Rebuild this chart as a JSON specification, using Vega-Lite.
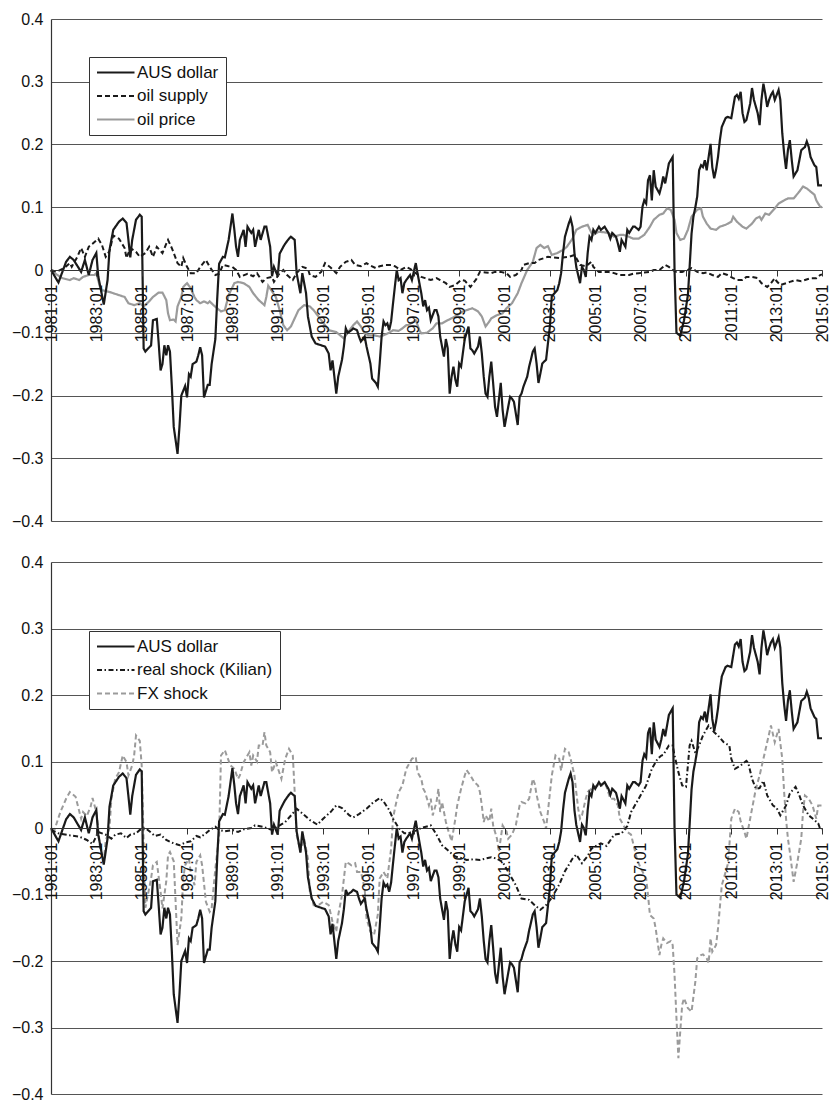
{
"$schema": "https://vega.github.io/schema/vega-lite/v6.json",
"background": "white",
"padding": {"left": 11, "top": 11, "right": 0, "bottom": 0},
"config": {"view": {"stroke": null}, "font": "Liberation Sans", "legend": {"title": null, "orient": "none", "strokeColor": "#333", "fillColor": "white", "padding": 7, "symbolType": "M-1,0H4", "symbolSize": 225, "symbolStrokeWidth": 2, "labelFontSize": 17, "labelColor": "#111", "labelOffset": 24, "rowPadding": 5.5, "labelLimit": 300}},
"spacing": 25,
"datasets": {
"aus": [
{"date":"1981-01","series":"AUS dollar","value":0},{"date":"1981-05","series":"AUS dollar","value":-0.02},{"date":"1981-09","series":"AUS dollar","value":0.013},{"date":"1981-11","series":"AUS dollar","value":0.021},{"date":"1982-01","series":"AUS dollar","value":0.016},{"date":"1982-05","series":"AUS dollar","value":-0.003},{"date":"1982-07","series":"AUS dollar","value":0.016},{"date":"1982-09","series":"AUS dollar","value":-0.008},{"date":"1982-11","series":"AUS dollar","value":0.016},{"date":"1983-01","series":"AUS dollar","value":0.027},{"date":"1983-02","series":"AUS dollar","value":-0.01},{"date":"1983-05","series":"AUS dollar","value":-0.055},{"date":"1983-07","series":"AUS dollar","value":-0.016},{"date":"1983-08","series":"AUS dollar","value":0.032},{"date":"1983-10","series":"AUS dollar","value":0.064},{"date":"1984-01","series":"AUS dollar","value":0.077},{"date":"1984-03","series":"AUS dollar","value":0.082},{"date":"1984-05","series":"AUS dollar","value":0.075},{"date":"1984-06","series":"AUS dollar","value":0.048},{"date":"1984-07","series":"AUS dollar","value":0.02},{"date":"1984-08","series":"AUS dollar","value":0.048},{"date":"1984-10","series":"AUS dollar","value":0.08},{"date":"1984-12","series":"AUS dollar","value":0.088},{"date":"1985-01","series":"AUS dollar","value":0.085},{"date":"1985-02","series":"AUS dollar","value":-0.125},{"date":"1985-03","series":"AUS dollar","value":-0.13},{"date":"1985-06","series":"AUS dollar","value":-0.12},{"date":"1985-07","series":"AUS dollar","value":-0.08},{"date":"1985-09","series":"AUS dollar","value":-0.078},{"date":"1985-10","series":"AUS dollar","value":-0.116},{"date":"1985-11","series":"AUS dollar","value":-0.16},{"date":"1985-12","series":"AUS dollar","value":-0.15},{"date":"1986-01","series":"AUS dollar","value":-0.12},{"date":"1986-02","series":"AUS dollar","value":-0.136},{"date":"1986-03","series":"AUS dollar","value":-0.12},{"date":"1986-04","series":"AUS dollar","value":-0.13},{"date":"1986-05","series":"AUS dollar","value":-0.185},{"date":"1986-06","series":"AUS dollar","value":-0.25},{"date":"1986-08","series":"AUS dollar","value":-0.293},{"date":"1986-09","series":"AUS dollar","value":-0.25},{"date":"1986-10","series":"AUS dollar","value":-0.2},{"date":"1986-12","series":"AUS dollar","value":-0.185},{"date":"1987-01","series":"AUS dollar","value":-0.203},{"date":"1987-02","series":"AUS dollar","value":-0.166},{"date":"1987-03","series":"AUS dollar","value":-0.17},{"date":"1987-04","series":"AUS dollar","value":-0.15},{"date":"1987-06","series":"AUS dollar","value":-0.146},{"date":"1987-07","series":"AUS dollar","value":-0.136},{"date":"1987-08","series":"AUS dollar","value":-0.123},{"date":"1987-09","series":"AUS dollar","value":-0.136},{"date":"1987-10","series":"AUS dollar","value":-0.203},{"date":"1987-12","series":"AUS dollar","value":-0.183},{"date":"1988-01","series":"AUS dollar","value":-0.183},{"date":"1988-02","series":"AUS dollar","value":-0.15},{"date":"1988-04","series":"AUS dollar","value":-0.11},{"date":"1988-05","series":"AUS dollar","value":-0.046},{"date":"1988-06","series":"AUS dollar","value":0.01},{"date":"1988-08","series":"AUS dollar","value":0.021},{"date":"1988-09","series":"AUS dollar","value":0.02},{"date":"1988-11","series":"AUS dollar","value":0.048},{"date":"1989-01","series":"AUS dollar","value":0.09},{"date":"1989-02","series":"AUS dollar","value":0.064},{"date":"1989-03","series":"AUS dollar","value":0.037},{"date":"1989-04","series":"AUS dollar","value":0.021},{"date":"1989-05","series":"AUS dollar","value":0.048},{"date":"1989-07","series":"AUS dollar","value":0.064},{"date":"1989-08","series":"AUS dollar","value":0.037},{"date":"1989-09","series":"AUS dollar","value":0.069},{"date":"1989-11","series":"AUS dollar","value":0.059},{"date":"1989-12","series":"AUS dollar","value":0.064},{"date":"1990-01","series":"AUS dollar","value":0.037},{"date":"1990-03","series":"AUS dollar","value":0.064},{"date":"1990-04","series":"AUS dollar","value":0.048},{"date":"1990-06","series":"AUS dollar","value":0.069},{"date":"1990-07","series":"AUS dollar","value":0.069},{"date":"1990-09","series":"AUS dollar","value":0.037},{"date":"1990-10","series":"AUS dollar","value":-0.01},{"date":"1990-11","series":"AUS dollar","value":0.005},{"date":"1991-01","series":"AUS dollar","value":-0.01},{"date":"1991-02","series":"AUS dollar","value":0.026},{"date":"1991-04","series":"AUS dollar","value":0.037},{"date":"1991-05","series":"AUS dollar","value":0.042},{"date":"1991-07","series":"AUS dollar","value":0.05},{"date":"1991-08","series":"AUS dollar","value":0.053},{"date":"1991-10","series":"AUS dollar","value":0.048},{"date":"1991-11","series":"AUS dollar","value":-0.005},{"date":"1992-01","series":"AUS dollar","value":-0.037},{"date":"1992-02","series":"AUS dollar","value":-0.005},{"date":"1992-04","series":"AUS dollar","value":-0.037},{"date":"1992-05","series":"AUS dollar","value":-0.074},{"date":"1992-07","series":"AUS dollar","value":-0.106},{"date":"1992-09","series":"AUS dollar","value":-0.117},{"date":"1992-12","series":"AUS dollar","value":-0.12},{"date":"1993-02","series":"AUS dollar","value":-0.122},{"date":"1993-04","series":"AUS dollar","value":-0.133},{"date":"1993-05","series":"AUS dollar","value":-0.16},{"date":"1993-06","series":"AUS dollar","value":-0.144},{"date":"1993-07","series":"AUS dollar","value":-0.17},{"date":"1993-08","series":"AUS dollar","value":-0.197},{"date":"1993-09","series":"AUS dollar","value":-0.17},{"date":"1993-11","series":"AUS dollar","value":-0.143},{"date":"1993-12","series":"AUS dollar","value":-0.122},{"date":"1994-01","series":"AUS dollar","value":-0.093},{"date":"1994-02","series":"AUS dollar","value":-0.1},{"date":"1994-04","series":"AUS dollar","value":-0.096},{"date":"1994-05","series":"AUS dollar","value":-0.093},{"date":"1994-07","series":"AUS dollar","value":-0.096},{"date":"1994-08","series":"AUS dollar","value":-0.106},{"date":"1994-09","series":"AUS dollar","value":-0.114},{"date":"1994-11","series":"AUS dollar","value":-0.106},{"date":"1994-12","series":"AUS dollar","value":-0.122},{"date":"1995-02","series":"AUS dollar","value":-0.149},{"date":"1995-03","series":"AUS dollar","value":-0.173},{"date":"1995-05","series":"AUS dollar","value":-0.18},{"date":"1995-06","series":"AUS dollar","value":-0.186},{"date":"1995-07","series":"AUS dollar","value":-0.149},{"date":"1995-08","series":"AUS dollar","value":-0.106},{"date":"1995-09","series":"AUS dollar","value":-0.082},{"date":"1995-10","series":"AUS dollar","value":-0.088},{"date":"1995-11","series":"AUS dollar","value":-0.085},{"date":"1995-12","series":"AUS dollar","value":-0.096},{"date":"1996-01","series":"AUS dollar","value":-0.082},{"date":"1996-02","series":"AUS dollar","value":-0.053},{"date":"1996-03","series":"AUS dollar","value":-0.027},{"date":"1996-04","series":"AUS dollar","value":0.0},{"date":"1996-05","series":"AUS dollar","value":-0.016},{"date":"1996-06","series":"AUS dollar","value":-0.013},{"date":"1996-07","series":"AUS dollar","value":-0.037},{"date":"1996-08","series":"AUS dollar","value":-0.021},{"date":"1996-09","series":"AUS dollar","value":-0.016},{"date":"1996-11","series":"AUS dollar","value":-0.008},{"date":"1996-12","series":"AUS dollar","value":-0.016},{"date":"1997-02","series":"AUS dollar","value":0.011},{"date":"1997-03","series":"AUS dollar","value":-0.005},{"date":"1997-05","series":"AUS dollar","value":-0.037},{"date":"1997-06","series":"AUS dollar","value":-0.058},{"date":"1997-07","series":"AUS dollar","value":-0.048},{"date":"1997-08","series":"AUS dollar","value":-0.064},{"date":"1997-09","series":"AUS dollar","value":-0.06},{"date":"1997-10","series":"AUS dollar","value":-0.08},{"date":"1997-12","series":"AUS dollar","value":-0.064},{"date":"1998-01","series":"AUS dollar","value":-0.064},{"date":"1998-02","series":"AUS dollar","value":-0.074},{"date":"1998-03","series":"AUS dollar","value":-0.106},{"date":"1998-05","series":"AUS dollar","value":-0.138},{"date":"1998-06","series":"AUS dollar","value":-0.11},{"date":"1998-07","series":"AUS dollar","value":-0.125},{"date":"1998-08","series":"AUS dollar","value":-0.197},{"date":"1998-09","series":"AUS dollar","value":-0.17},{"date":"1998-10","series":"AUS dollar","value":-0.154},{"date":"1998-11","series":"AUS dollar","value":-0.175},{"date":"1998-12","series":"AUS dollar","value":-0.186},{"date":"1999-01","series":"AUS dollar","value":-0.149},{"date":"1999-02","series":"AUS dollar","value":-0.154},{"date":"1999-03","series":"AUS dollar","value":-0.133},{"date":"1999-04","series":"AUS dollar","value":-0.11},{"date":"1999-06","series":"AUS dollar","value":-0.09},{"date":"1999-07","series":"AUS dollar","value":-0.125},{"date":"1999-08","series":"AUS dollar","value":-0.128},{"date":"1999-09","series":"AUS dollar","value":-0.133},{"date":"1999-11","series":"AUS dollar","value":-0.122},{"date":"1999-12","series":"AUS dollar","value":-0.106},{"date":"2000-01","series":"AUS dollar","value":-0.133},{"date":"2000-02","series":"AUS dollar","value":-0.17},{"date":"2000-03","series":"AUS dollar","value":-0.197},{"date":"2000-04","series":"AUS dollar","value":-0.202},{"date":"2000-05","series":"AUS dollar","value":-0.17},{"date":"2000-06","series":"AUS dollar","value":-0.146},{"date":"2000-07","series":"AUS dollar","value":-0.18},{"date":"2000-08","series":"AUS dollar","value":-0.218},{"date":"2000-09","series":"AUS dollar","value":-0.234},{"date":"2000-10","series":"AUS dollar","value":-0.207},{"date":"2000-11","series":"AUS dollar","value":-0.18},{"date":"2000-12","series":"AUS dollar","value":-0.223},{"date":"2001-01","series":"AUS dollar","value":-0.25},{"date":"2001-03","series":"AUS dollar","value":-0.218},{"date":"2001-04","series":"AUS dollar","value":-0.202},{"date":"2001-05","series":"AUS dollar","value":-0.205},{"date":"2001-06","series":"AUS dollar","value":-0.21},{"date":"2001-08","series":"AUS dollar","value":-0.247},{"date":"2001-09","series":"AUS dollar","value":-0.202},{"date":"2001-10","series":"AUS dollar","value":-0.197},{"date":"2001-11","series":"AUS dollar","value":-0.186},{"date":"2001-12","series":"AUS dollar","value":-0.178},{"date":"2002-01","series":"AUS dollar","value":-0.17},{"date":"2002-02","series":"AUS dollar","value":-0.154},{"date":"2002-03","series":"AUS dollar","value":-0.143},{"date":"2002-04","series":"AUS dollar","value":-0.13},{"date":"2002-05","series":"AUS dollar","value":-0.125},{"date":"2002-06","series":"AUS dollar","value":-0.149},{"date":"2002-07","series":"AUS dollar","value":-0.18},{"date":"2002-08","series":"AUS dollar","value":-0.165},{"date":"2002-09","series":"AUS dollar","value":-0.149},{"date":"2002-11","series":"AUS dollar","value":-0.143},{"date":"2003-01","series":"AUS dollar","value":-0.09},{"date":"2003-02","series":"AUS dollar","value":-0.042},{"date":"2003-05","series":"AUS dollar","value":-0.032},{"date":"2003-06","series":"AUS dollar","value":-0.021},{"date":"2003-07","series":"AUS dollar","value":-0.005},{"date":"2003-08","series":"AUS dollar","value":0.027},{"date":"2003-09","series":"AUS dollar","value":0.053},{"date":"2003-11","series":"AUS dollar","value":0.074},{"date":"2003-12","series":"AUS dollar","value":0.082},{"date":"2004-01","series":"AUS dollar","value":0.069},{"date":"2004-02","series":"AUS dollar","value":0.027},{"date":"2004-03","series":"AUS dollar","value":0.005},{"date":"2004-05","series":"AUS dollar","value":-0.021},{"date":"2004-06","series":"AUS dollar","value":0.005},{"date":"2004-07","series":"AUS dollar","value":0.0},{"date":"2004-08","series":"AUS dollar","value":-0.011},{"date":"2004-09","series":"AUS dollar","value":0.027},{"date":"2004-10","series":"AUS dollar","value":0.053},{"date":"2004-11","series":"AUS dollar","value":0.048},{"date":"2004-12","series":"AUS dollar","value":0.064},{"date":"2005-01","series":"AUS dollar","value":0.059},{"date":"2005-03","series":"AUS dollar","value":0.069},{"date":"2005-04","series":"AUS dollar","value":0.064},{"date":"2005-06","series":"AUS dollar","value":0.069},{"date":"2005-07","series":"AUS dollar","value":0.064},{"date":"2005-08","series":"AUS dollar","value":0.059},{"date":"2005-09","series":"AUS dollar","value":0.05},{"date":"2005-10","series":"AUS dollar","value":0.059},{"date":"2005-12","series":"AUS dollar","value":0.053},{"date":"2006-01","series":"AUS dollar","value":0.042},{"date":"2006-02","series":"AUS dollar","value":0.029},{"date":"2006-03","series":"AUS dollar","value":0.048},{"date":"2006-05","series":"AUS dollar","value":0.037},{"date":"2006-06","series":"AUS dollar","value":0.064},{"date":"2006-07","series":"AUS dollar","value":0.059},{"date":"2006-09","series":"AUS dollar","value":0.069},{"date":"2006-10","series":"AUS dollar","value":0.069},{"date":"2006-12","series":"AUS dollar","value":0.064},{"date":"2007-01","series":"AUS dollar","value":0.069},{"date":"2007-02","series":"AUS dollar","value":0.101},{"date":"2007-03","series":"AUS dollar","value":0.111},{"date":"2007-04","series":"AUS dollar","value":0.106},{"date":"2007-05","series":"AUS dollar","value":0.143},{"date":"2007-06","series":"AUS dollar","value":0.151},{"date":"2007-07","series":"AUS dollar","value":0.111},{"date":"2007-08","series":"AUS dollar","value":0.159},{"date":"2007-09","series":"AUS dollar","value":0.133},{"date":"2007-11","series":"AUS dollar","value":0.122},{"date":"2007-12","series":"AUS dollar","value":0.133},{"date":"2008-01","series":"AUS dollar","value":0.149},{"date":"2008-02","series":"AUS dollar","value":0.138},{"date":"2008-04","series":"AUS dollar","value":0.17},{"date":"2008-05","series":"AUS dollar","value":0.175},{"date":"2008-06","series":"AUS dollar","value":0.18},{"date":"2008-07","series":"AUS dollar","value":0.0},{"date":"2008-08","series":"AUS dollar","value":-0.1},{"date":"2008-10","series":"AUS dollar","value":-0.105},{"date":"2008-12","series":"AUS dollar","value":-0.08},{"date":"2009-02","series":"AUS dollar","value":-0.04},{"date":"2009-03","series":"AUS dollar","value":0.005},{"date":"2009-04","series":"AUS dollar","value":0.058},{"date":"2009-05","series":"AUS dollar","value":0.085},{"date":"2009-06","series":"AUS dollar","value":0.1},{"date":"2009-07","series":"AUS dollar","value":0.117},{"date":"2009-08","series":"AUS dollar","value":0.159},{"date":"2009-09","series":"AUS dollar","value":0.167},{"date":"2009-10","series":"AUS dollar","value":0.164},{"date":"2009-11","series":"AUS dollar","value":0.175},{"date":"2009-12","series":"AUS dollar","value":0.159},{"date":"2010-01","series":"AUS dollar","value":0.18},{"date":"2010-02","series":"AUS dollar","value":0.201},{"date":"2010-03","series":"AUS dollar","value":0.164},{"date":"2010-04","series":"AUS dollar","value":0.146},{"date":"2010-05","series":"AUS dollar","value":0.16},{"date":"2010-06","series":"AUS dollar","value":0.18},{"date":"2010-07","series":"AUS dollar","value":0.207},{"date":"2010-08","series":"AUS dollar","value":0.228},{"date":"2010-10","series":"AUS dollar","value":0.242},{"date":"2010-11","series":"AUS dollar","value":0.244},{"date":"2011-01","series":"AUS dollar","value":0.242},{"date":"2011-02","series":"AUS dollar","value":0.26},{"date":"2011-03","series":"AUS dollar","value":0.276},{"date":"2011-04","series":"AUS dollar","value":0.279},{"date":"2011-05","series":"AUS dollar","value":0.273},{"date":"2011-06","series":"AUS dollar","value":0.284},{"date":"2011-07","series":"AUS dollar","value":0.25},{"date":"2011-08","series":"AUS dollar","value":0.236},{"date":"2011-09","series":"AUS dollar","value":0.239},{"date":"2011-11","series":"AUS dollar","value":0.265},{"date":"2011-12","series":"AUS dollar","value":0.29},{"date":"2012-01","series":"AUS dollar","value":0.271},{"date":"2012-03","series":"AUS dollar","value":0.25},{"date":"2012-04","series":"AUS dollar","value":0.231},{"date":"2012-05","series":"AUS dollar","value":0.271},{"date":"2012-06","series":"AUS dollar","value":0.297},{"date":"2012-07","series":"AUS dollar","value":0.281},{"date":"2012-08","series":"AUS dollar","value":0.26},{"date":"2012-09","series":"AUS dollar","value":0.271},{"date":"2012-10","series":"AUS dollar","value":0.279},{"date":"2012-11","series":"AUS dollar","value":0.284},{"date":"2012-12","series":"AUS dollar","value":0.271},{"date":"2013-02","series":"AUS dollar","value":0.287},{"date":"2013-03","series":"AUS dollar","value":0.271},{"date":"2013-04","series":"AUS dollar","value":0.218},{"date":"2013-05","series":"AUS dollar","value":0.186},{"date":"2013-06","series":"AUS dollar","value":0.161},{"date":"2013-07","series":"AUS dollar","value":0.191},{"date":"2013-08","series":"AUS dollar","value":0.207},{"date":"2013-09","series":"AUS dollar","value":0.175},{"date":"2013-10","series":"AUS dollar","value":0.149},{"date":"2013-12","series":"AUS dollar","value":0.159},{"date":"2014-01","series":"AUS dollar","value":0.175},{"date":"2014-02","series":"AUS dollar","value":0.191},{"date":"2014-04","series":"AUS dollar","value":0.196},{"date":"2014-05","series":"AUS dollar","value":0.205},{"date":"2014-06","series":"AUS dollar","value":0.196},{"date":"2014-07","series":"AUS dollar","value":0.18},{"date":"2014-09","series":"AUS dollar","value":0.167},{"date":"2014-10","series":"AUS dollar","value":0.164},{"date":"2014-11","series":"AUS dollar","value":0.135},{"date":"2014-12","series":"AUS dollar","value":0.135},{"date":"2015-01","series":"AUS dollar","value":0.135}
],
"supply": [
{"date":"1981-01","series":"oil supply","value":0},{"date":"1981-04","series":"oil supply","value":-0.003},{"date":"1981-08","series":"oil supply","value":0.003},{"date":"1981-11","series":"oil supply","value":0.011},{"date":"1981-12","series":"oil supply","value":0.005},{"date":"1982-03","series":"oil supply","value":0.021},{"date":"1982-05","series":"oil supply","value":0.035},{"date":"1982-07","series":"oil supply","value":0.021},{"date":"1982-09","series":"oil supply","value":0.037},{"date":"1982-11","series":"oil supply","value":0.042},{"date":"1983-02","series":"oil supply","value":0.05},{"date":"1983-04","series":"oil supply","value":0.04},{"date":"1983-06","series":"oil supply","value":0.021},{"date":"1983-08","series":"oil supply","value":0.03},{"date":"1983-10","series":"oil supply","value":0.055},{"date":"1984-01","series":"oil supply","value":0.05},{"date":"1984-04","series":"oil supply","value":0.035},{"date":"1984-05","series":"oil supply","value":0.019},{"date":"1984-07","series":"oil supply","value":0.035},{"date":"1984-10","series":"oil supply","value":0.029},{"date":"1984-12","series":"oil supply","value":0.021},{"date":"1985-03","series":"oil supply","value":0.027},{"date":"1985-05","series":"oil supply","value":0.037},{"date":"1985-07","series":"oil supply","value":0.021},{"date":"1985-09","series":"oil supply","value":0.037},{"date":"1985-12","series":"oil supply","value":0.027},{"date":"1986-02","series":"oil supply","value":0.042},{"date":"1986-03","series":"oil supply","value":0.048},{"date":"1986-05","series":"oil supply","value":0.035},{"date":"1986-08","series":"oil supply","value":0.011},{"date":"1986-10","series":"oil supply","value":0.005},{"date":"1986-11","series":"oil supply","value":0.019},{"date":"1987-01","series":"oil supply","value":0.005},{"date":"1987-03","series":"oil supply","value":-0.005},{"date":"1987-06","series":"oil supply","value":-0.005},{"date":"1987-08","series":"oil supply","value":0.005},{"date":"1987-11","series":"oil supply","value":0.016},{"date":"1988-01","series":"oil supply","value":0.005},{"date":"1988-04","series":"oil supply","value":-0.008},{"date":"1988-06","series":"oil supply","value":-0.006},{"date":"1988-08","series":"oil supply","value":0.008},{"date":"1988-11","series":"oil supply","value":0.006},{"date":"1989-01","series":"oil supply","value":0.005},{"date":"1989-03","series":"oil supply","value":0.0},{"date":"1989-05","series":"oil supply","value":-0.011},{"date":"1989-09","series":"oil supply","value":-0.006},{"date":"1989-12","series":"oil supply","value":-0.01},{"date":"1990-02","series":"oil supply","value":-0.005},{"date":"1990-05","series":"oil supply","value":-0.019},{"date":"1990-07","series":"oil supply","value":-0.013},{"date":"1990-10","series":"oil supply","value":-0.011},{"date":"1990-11","series":"oil supply","value":-0.019},{"date":"1991-02","series":"oil supply","value":-0.005},{"date":"1991-04","series":"oil supply","value":0.0},{"date":"1991-06","series":"oil supply","value":-0.008},{"date":"1991-09","series":"oil supply","value":-0.016},{"date":"1991-11","series":"oil supply","value":-0.005},{"date":"1992-02","series":"oil supply","value":0.005},{"date":"1992-05","series":"oil supply","value":0.002},{"date":"1992-06","series":"oil supply","value":-0.008},{"date":"1992-09","series":"oil supply","value":-0.011},{"date":"1992-12","series":"oil supply","value":-0.003},{"date":"1993-02","series":"oil supply","value":0.011},{"date":"1993-05","series":"oil supply","value":0.004},{"date":"1993-08","series":"oil supply","value":-0.005},{"date":"1993-10","series":"oil supply","value":0.005},{"date":"1994-01","series":"oil supply","value":0.013},{"date":"1994-04","series":"oil supply","value":0.016},{"date":"1994-06","series":"oil supply","value":0.008},{"date":"1994-09","series":"oil supply","value":0.006},{"date":"1994-12","series":"oil supply","value":0.011},{"date":"1995-02","series":"oil supply","value":0.007},{"date":"1995-05","series":"oil supply","value":0.003},{"date":"1995-07","series":"oil supply","value":0.006},{"date":"1995-10","series":"oil supply","value":0.008},{"date":"1996-01","series":"oil supply","value":0.008},{"date":"1996-03","series":"oil supply","value":0.006},{"date":"1996-06","series":"oil supply","value":0.0},{"date":"1996-09","series":"oil supply","value":0.005},{"date":"1996-11","series":"oil supply","value":0.002},{"date":"1997-02","series":"oil supply","value":-0.005},{"date":"1997-05","series":"oil supply","value":-0.011},{"date":"1997-07","series":"oil supply","value":-0.013},{"date":"1997-10","series":"oil supply","value":-0.016},{"date":"1998-01","series":"oil supply","value":-0.013},{"date":"1998-03","series":"oil supply","value":-0.016},{"date":"1998-06","series":"oil supply","value":-0.021},{"date":"1998-08","series":"oil supply","value":-0.027},{"date":"1998-11","series":"oil supply","value":-0.024},{"date":"1999-02","series":"oil supply","value":-0.016},{"date":"1999-04","series":"oil supply","value":-0.017},{"date":"1999-07","series":"oil supply","value":-0.027},{"date":"1999-10","series":"oil supply","value":-0.015},{"date":"1999-12","series":"oil supply","value":-0.003},{"date":"2000-03","series":"oil supply","value":-0.004},{"date":"2000-06","series":"oil supply","value":-0.005},{"date":"2000-08","series":"oil supply","value":-0.003},{"date":"2000-11","series":"oil supply","value":-0.003},{"date":"2001-02","series":"oil supply","value":-0.005},{"date":"2001-04","series":"oil supply","value":-0.011},{"date":"2001-07","series":"oil supply","value":-0.008},{"date":"2001-10","series":"oil supply","value":0.0},{"date":"2001-11","series":"oil supply","value":0.008},{"date":"2002-02","series":"oil supply","value":0.011},{"date":"2002-05","series":"oil supply","value":0.011},{"date":"2002-07","series":"oil supply","value":0.016},{"date":"2002-10","series":"oil supply","value":0.019},{"date":"2002-12","series":"oil supply","value":0.021},{"date":"2003-03","series":"oil supply","value":0.02},{"date":"2003-06","series":"oil supply","value":0.019},{"date":"2003-08","series":"oil supply","value":0.02},{"date":"2003-11","series":"oil supply","value":0.021},{"date":"2004-02","series":"oil supply","value":0.024},{"date":"2004-03","series":"oil supply","value":0.019},{"date":"2004-05","series":"oil supply","value":0.008},{"date":"2004-08","series":"oil supply","value":0.006},{"date":"2004-11","series":"oil supply","value":0.013},{"date":"2004-12","series":"oil supply","value":0.005},{"date":"2005-03","series":"oil supply","value":-0.003},{"date":"2005-06","series":"oil supply","value":-0.003},{"date":"2005-08","series":"oil supply","value":-0.003},{"date":"2005-11","series":"oil supply","value":-0.005},{"date":"2006-02","series":"oil supply","value":-0.008},{"date":"2006-04","series":"oil supply","value":-0.008},{"date":"2006-07","series":"oil supply","value":-0.008},{"date":"2006-09","series":"oil supply","value":-0.006},{"date":"2006-12","series":"oil supply","value":-0.005},{"date":"2007-03","series":"oil supply","value":-0.004},{"date":"2007-06","series":"oil supply","value":-0.003},{"date":"2007-08","series":"oil supply","value":0.0},{"date":"2007-11","series":"oil supply","value":0.0},{"date":"2008-01","series":"oil supply","value":0.005},{"date":"2008-02","series":"oil supply","value":0.008},{"date":"2008-04","series":"oil supply","value":0.005},{"date":"2008-06","series":"oil supply","value":0.0},{"date":"2008-08","series":"oil supply","value":-0.003},{"date":"2008-11","series":"oil supply","value":-0.003},{"date":"2009-02","series":"oil supply","value":0.0},{"date":"2009-04","series":"oil supply","value":0.003},{"date":"2009-07","series":"oil supply","value":-0.003},{"date":"2009-10","series":"oil supply","value":-0.005},{"date":"2009-12","series":"oil supply","value":-0.004},{"date":"2010-03","series":"oil supply","value":-0.008},{"date":"2010-06","series":"oil supply","value":-0.011},{"date":"2010-08","series":"oil supply","value":-0.005},{"date":"2010-11","series":"oil supply","value":-0.008},{"date":"2011-02","series":"oil supply","value":-0.013},{"date":"2011-04","series":"oil supply","value":-0.016},{"date":"2011-07","series":"oil supply","value":-0.016},{"date":"2011-09","series":"oil supply","value":-0.011},{"date":"2011-12","series":"oil supply","value":-0.011},{"date":"2012-03","series":"oil supply","value":-0.013},{"date":"2012-05","series":"oil supply","value":-0.021},{"date":"2012-08","series":"oil supply","value":-0.027},{"date":"2012-10","series":"oil supply","value":-0.021},{"date":"2012-12","series":"oil supply","value":-0.013},{"date":"2013-01","series":"oil supply","value":-0.018},{"date":"2013-03","series":"oil supply","value":-0.024},{"date":"2013-06","series":"oil supply","value":-0.021},{"date":"2013-08","series":"oil supply","value":-0.019},{"date":"2013-11","series":"oil supply","value":-0.016},{"date":"2014-02","series":"oil supply","value":-0.018},{"date":"2014-04","series":"oil supply","value":-0.016},{"date":"2014-07","series":"oil supply","value":-0.013},{"date":"2014-10","series":"oil supply","value":-0.013},{"date":"2014-12","series":"oil supply","value":-0.008},{"date":"2015-01","series":"oil supply","value":-0.007}
],
"price": [
{"date":"1981-01","series":"oil price","value":-0.001},{"date":"1981-03","series":"oil price","value":-0.005},{"date":"1981-07","series":"oil price","value":-0.013},{"date":"1981-11","series":"oil price","value":-0.016},{"date":"1982-01","series":"oil price","value":-0.013},{"date":"1982-04","series":"oil price","value":-0.016},{"date":"1982-06","series":"oil price","value":-0.011},{"date":"1982-09","series":"oil price","value":-0.008},{"date":"1982-12","series":"oil price","value":-0.008},{"date":"1983-01","series":"oil price","value":-0.005},{"date":"1983-03","series":"oil price","value":-0.027},{"date":"1983-04","series":"oil price","value":-0.032},{"date":"1983-08","series":"oil price","value":-0.035},{"date":"1983-10","series":"oil price","value":-0.037},{"date":"1984-01","series":"oil price","value":-0.04},{"date":"1984-04","series":"oil price","value":-0.043},{"date":"1984-06","series":"oil price","value":-0.053},{"date":"1984-09","series":"oil price","value":-0.056},{"date":"1984-12","series":"oil price","value":-0.053},{"date":"1985-02","series":"oil price","value":-0.058},{"date":"1985-05","series":"oil price","value":-0.05},{"date":"1985-07","series":"oil price","value":-0.043},{"date":"1985-10","series":"oil price","value":-0.036},{"date":"1985-12","series":"oil price","value":-0.036},{"date":"1986-02","series":"oil price","value":-0.048},{"date":"1986-03","series":"oil price","value":-0.069},{"date":"1986-04","series":"oil price","value":-0.08},{"date":"1986-06","series":"oil price","value":-0.079},{"date":"1986-07","series":"oil price","value":-0.082},{"date":"1986-08","series":"oil price","value":-0.058},{"date":"1986-10","series":"oil price","value":-0.043},{"date":"1986-11","series":"oil price","value":-0.027},{"date":"1987-01","series":"oil price","value":-0.021},{"date":"1987-03","series":"oil price","value":-0.029},{"date":"1987-05","series":"oil price","value":-0.043},{"date":"1987-06","series":"oil price","value":-0.048},{"date":"1987-08","series":"oil price","value":-0.053},{"date":"1987-10","series":"oil price","value":-0.05},{"date":"1987-12","series":"oil price","value":-0.053},{"date":"1988-01","series":"oil price","value":-0.05},{"date":"1988-03","series":"oil price","value":-0.056},{"date":"1988-05","series":"oil price","value":-0.061},{"date":"1988-07","series":"oil price","value":-0.066},{"date":"1988-09","series":"oil price","value":-0.064},{"date":"1988-11","series":"oil price","value":-0.04},{"date":"1989-02","series":"oil price","value":-0.021},{"date":"1989-04","series":"oil price","value":-0.019},{"date":"1989-07","series":"oil price","value":-0.021},{"date":"1989-10","series":"oil price","value":-0.027},{"date":"1989-12","series":"oil price","value":-0.037},{"date":"1990-03","series":"oil price","value":-0.048},{"date":"1990-06","series":"oil price","value":-0.056},{"date":"1990-07","series":"oil price","value":-0.043},{"date":"1990-08","series":"oil price","value":-0.025},{"date":"1990-12","series":"oil price","value":-0.043},{"date":"1991-02","series":"oil price","value":-0.064},{"date":"1991-04","series":"oil price","value":-0.088},{"date":"1991-06","series":"oil price","value":-0.096},{"date":"1991-08","series":"oil price","value":-0.09},{"date":"1991-10","series":"oil price","value":-0.077},{"date":"1991-12","series":"oil price","value":-0.064},{"date":"1992-03","series":"oil price","value":-0.056},{"date":"1992-06","series":"oil price","value":-0.058},{"date":"1992-08","series":"oil price","value":-0.064},{"date":"1992-12","series":"oil price","value":-0.08},{"date":"1993-04","series":"oil price","value":-0.096},{"date":"1993-08","series":"oil price","value":-0.099},{"date":"1993-10","series":"oil price","value":-0.104},{"date":"1993-12","series":"oil price","value":-0.109},{"date":"1994-03","series":"oil price","value":-0.096},{"date":"1994-05","series":"oil price","value":-0.088},{"date":"1994-07","series":"oil price","value":-0.082},{"date":"1994-09","series":"oil price","value":-0.09},{"date":"1994-11","series":"oil price","value":-0.101},{"date":"1995-01","series":"oil price","value":-0.104},{"date":"1995-04","series":"oil price","value":-0.104},{"date":"1995-07","series":"oil price","value":-0.106},{"date":"1995-09","series":"oil price","value":-0.104},{"date":"1995-12","series":"oil price","value":-0.1},{"date":"1996-02","series":"oil price","value":-0.096},{"date":"1996-05","series":"oil price","value":-0.097},{"date":"1996-07","series":"oil price","value":-0.093},{"date":"1996-09","series":"oil price","value":-0.088},{"date":"1996-10","series":"oil price","value":-0.088},{"date":"1996-12","series":"oil price","value":-0.084},{"date":"1997-02","series":"oil price","value":-0.08},{"date":"1997-04","series":"oil price","value":-0.096},{"date":"1997-05","series":"oil price","value":-0.101},{"date":"1997-08","series":"oil price","value":-0.1},{"date":"1997-11","series":"oil price","value":-0.093},{"date":"1998-01","series":"oil price","value":-0.085},{"date":"1998-04","series":"oil price","value":-0.085},{"date":"1998-07","series":"oil price","value":-0.08},{"date":"1998-09","series":"oil price","value":-0.077},{"date":"1998-12","series":"oil price","value":-0.072},{"date":"1999-03","series":"oil price","value":-0.066},{"date":"1999-05","series":"oil price","value":-0.064},{"date":"1999-08","series":"oil price","value":-0.061},{"date":"1999-11","series":"oil price","value":-0.066},{"date":"2000-01","series":"oil price","value":-0.074},{"date":"2000-03","series":"oil price","value":-0.09},{"date":"2000-05","series":"oil price","value":-0.082},{"date":"2000-06","series":"oil price","value":-0.077},{"date":"2000-09","series":"oil price","value":-0.072},{"date":"2000-12","series":"oil price","value":-0.069},{"date":"2001-02","series":"oil price","value":-0.061},{"date":"2001-05","series":"oil price","value":-0.053},{"date":"2001-08","series":"oil price","value":-0.037},{"date":"2001-10","series":"oil price","value":-0.021},{"date":"2002-01","series":"oil price","value":0.0},{"date":"2002-04","series":"oil price","value":0.013},{"date":"2002-06","series":"oil price","value":0.035},{"date":"2002-08","series":"oil price","value":0.04},{"date":"2002-10","series":"oil price","value":0.035},{"date":"2002-12","series":"oil price","value":0.038},{"date":"2003-02","series":"oil price","value":0.024},{"date":"2003-05","series":"oil price","value":0.027},{"date":"2003-08","series":"oil price","value":0.032},{"date":"2003-10","series":"oil price","value":0.037},{"date":"2004-01","series":"oil price","value":0.05},{"date":"2004-03","series":"oil price","value":0.064},{"date":"2004-06","series":"oil price","value":0.069},{"date":"2004-09","series":"oil price","value":0.072},{"date":"2004-11","series":"oil price","value":0.059},{"date":"2004-12","series":"oil price","value":0.056},{"date":"2005-03","series":"oil price","value":0.061},{"date":"2005-06","series":"oil price","value":0.06},{"date":"2005-08","series":"oil price","value":0.059},{"date":"2005-11","series":"oil price","value":0.053},{"date":"2006-02","series":"oil price","value":0.056},{"date":"2006-04","series":"oil price","value":0.056},{"date":"2006-07","series":"oil price","value":0.053},{"date":"2006-09","series":"oil price","value":0.05},{"date":"2006-12","series":"oil price","value":0.05},{"date":"2007-03","series":"oil price","value":0.056},{"date":"2007-06","series":"oil price","value":0.069},{"date":"2007-08","series":"oil price","value":0.08},{"date":"2007-11","series":"oil price","value":0.088},{"date":"2008-01","series":"oil price","value":0.09},{"date":"2008-03","series":"oil price","value":0.098},{"date":"2008-05","series":"oil price","value":0.096},{"date":"2008-07","series":"oil price","value":0.08},{"date":"2008-08","series":"oil price","value":0.059},{"date":"2008-10","series":"oil price","value":0.048},{"date":"2008-12","series":"oil price","value":0.05},{"date":"2009-02","series":"oil price","value":0.064},{"date":"2009-04","series":"oil price","value":0.085},{"date":"2009-07","series":"oil price","value":0.096},{"date":"2009-09","series":"oil price","value":0.098},{"date":"2009-10","series":"oil price","value":0.085},{"date":"2009-12","series":"oil price","value":0.074},{"date":"2010-02","series":"oil price","value":0.066},{"date":"2010-05","series":"oil price","value":0.064},{"date":"2010-07","series":"oil price","value":0.069},{"date":"2010-10","series":"oil price","value":0.072},{"date":"2011-01","series":"oil price","value":0.077},{"date":"2011-02","series":"oil price","value":0.085},{"date":"2011-04","series":"oil price","value":0.077},{"date":"2011-07","series":"oil price","value":0.069},{"date":"2011-09","series":"oil price","value":0.066},{"date":"2011-12","series":"oil price","value":0.074},{"date":"2012-02","series":"oil price","value":0.082},{"date":"2012-04","series":"oil price","value":0.085},{"date":"2012-05","series":"oil price","value":0.08},{"date":"2012-07","series":"oil price","value":0.09},{"date":"2012-09","series":"oil price","value":0.088},{"date":"2012-12","series":"oil price","value":0.098},{"date":"2013-02","series":"oil price","value":0.106},{"date":"2013-05","series":"oil price","value":0.111},{"date":"2013-07","series":"oil price","value":0.114},{"date":"2013-10","series":"oil price","value":0.114},{"date":"2014-01","series":"oil price","value":0.125},{"date":"2014-03","series":"oil price","value":0.133},{"date":"2014-05","series":"oil price","value":0.13},{"date":"2014-07","series":"oil price","value":0.125},{"date":"2014-09","series":"oil price","value":0.12},{"date":"2014-10","series":"oil price","value":0.111},{"date":"2014-12","series":"oil price","value":0.101},{"date":"2015-01","series":"oil price","value":0.1}
],
"real": [
{"date":"1981-01","series":"real shock (Kilian)","value":-0.003},{"date":"1981-05","series":"real shock (Kilian)","value":-0.008},{"date":"1981-11","series":"real shock (Kilian)","value":-0.011},{"date":"1982-04","series":"real shock (Kilian)","value":-0.013},{"date":"1982-08","series":"real shock (Kilian)","value":-0.018},{"date":"1982-11","series":"real shock (Kilian)","value":-0.024},{"date":"1983-02","series":"real shock (Kilian)","value":-0.006},{"date":"1983-06","series":"real shock (Kilian)","value":-0.01},{"date":"1983-09","series":"real shock (Kilian)","value":-0.016},{"date":"1983-11","series":"real shock (Kilian)","value":-0.01},{"date":"1984-02","series":"real shock (Kilian)","value":-0.008},{"date":"1984-05","series":"real shock (Kilian)","value":-0.015},{"date":"1984-07","series":"real shock (Kilian)","value":-0.01},{"date":"1984-10","series":"real shock (Kilian)","value":-0.008},{"date":"1984-12","series":"real shock (Kilian)","value":-0.003},{"date":"1985-03","series":"real shock (Kilian)","value":0.0},{"date":"1985-06","series":"real shock (Kilian)","value":-0.007},{"date":"1985-08","series":"real shock (Kilian)","value":-0.012},{"date":"1985-11","series":"real shock (Kilian)","value":-0.01},{"date":"1986-02","series":"real shock (Kilian)","value":-0.018},{"date":"1986-05","series":"real shock (Kilian)","value":-0.022},{"date":"1986-09","series":"real shock (Kilian)","value":-0.026},{"date":"1986-12","series":"real shock (Kilian)","value":-0.022},{"date":"1987-03","series":"real shock (Kilian)","value":-0.02},{"date":"1987-06","series":"real shock (Kilian)","value":-0.012},{"date":"1987-08","series":"real shock (Kilian)","value":-0.014},{"date":"1987-11","series":"real shock (Kilian)","value":-0.008},{"date":"1988-01","series":"real shock (Kilian)","value":-0.003},{"date":"1988-04","series":"real shock (Kilian)","value":0.002},{"date":"1988-06","series":"real shock (Kilian)","value":-0.003},{"date":"1988-09","series":"real shock (Kilian)","value":-0.005},{"date":"1989-01","series":"real shock (Kilian)","value":-0.003},{"date":"1989-04","series":"real shock (Kilian)","value":-0.006},{"date":"1989-07","series":"real shock (Kilian)","value":-0.002},{"date":"1989-11","series":"real shock (Kilian)","value":0.0},{"date":"1990-01","series":"real shock (Kilian)","value":0.004},{"date":"1990-05","series":"real shock (Kilian)","value":0.002},{"date":"1990-07","series":"real shock (Kilian)","value":0.0},{"date":"1990-10","series":"real shock (Kilian)","value":-0.003},{"date":"1991-02","series":"real shock (Kilian)","value":0.004},{"date":"1991-05","series":"real shock (Kilian)","value":0.009},{"date":"1991-09","series":"real shock (Kilian)","value":0.022},{"date":"1991-11","series":"real shock (Kilian)","value":0.029},{"date":"1992-02","series":"real shock (Kilian)","value":0.022},{"date":"1992-06","series":"real shock (Kilian)","value":0.012},{"date":"1992-10","series":"real shock (Kilian)","value":0.005},{"date":"1993-01","series":"real shock (Kilian)","value":0.014},{"date":"1993-05","series":"real shock (Kilian)","value":0.024},{"date":"1993-08","series":"real shock (Kilian)","value":0.034},{"date":"1993-11","series":"real shock (Kilian)","value":0.03},{"date":"1994-03","series":"real shock (Kilian)","value":0.019},{"date":"1994-05","series":"real shock (Kilian)","value":0.016},{"date":"1994-08","series":"real shock (Kilian)","value":0.021},{"date":"1994-12","series":"real shock (Kilian)","value":0.029},{"date":"1995-03","series":"real shock (Kilian)","value":0.037},{"date":"1995-07","series":"real shock (Kilian)","value":0.045},{"date":"1995-09","series":"real shock (Kilian)","value":0.04},{"date":"1995-12","series":"real shock (Kilian)","value":0.027},{"date":"1996-02","series":"real shock (Kilian)","value":0.014},{"date":"1996-05","series":"real shock (Kilian)","value":0.0},{"date":"1996-08","series":"real shock (Kilian)","value":-0.008},{"date":"1996-10","series":"real shock (Kilian)","value":-0.008},{"date":"1997-02","series":"real shock (Kilian)","value":-0.004},{"date":"1997-05","series":"real shock (Kilian)","value":0.0},{"date":"1997-10","series":"real shock (Kilian)","value":0.004},{"date":"1998-01","series":"real shock (Kilian)","value":-0.01},{"date":"1998-04","series":"real shock (Kilian)","value":-0.026},{"date":"1998-08","series":"real shock (Kilian)","value":-0.036},{"date":"1998-11","series":"real shock (Kilian)","value":-0.043},{"date":"1999-02","series":"real shock (Kilian)","value":-0.045},{"date":"1999-05","series":"real shock (Kilian)","value":-0.048},{"date":"1999-09","series":"real shock (Kilian)","value":-0.047},{"date":"1999-12","series":"real shock (Kilian)","value":-0.048},{"date":"2000-03","series":"real shock (Kilian)","value":-0.046},{"date":"2000-06","series":"real shock (Kilian)","value":-0.044},{"date":"2000-09","series":"real shock (Kilian)","value":-0.046},{"date":"2000-12","series":"real shock (Kilian)","value":-0.051},{"date":"2001-03","series":"real shock (Kilian)","value":-0.066},{"date":"2001-07","series":"real shock (Kilian)","value":-0.086},{"date":"2001-10","series":"real shock (Kilian)","value":-0.106},{"date":"2002-02","series":"real shock (Kilian)","value":-0.108},{"date":"2002-05","series":"real shock (Kilian)","value":-0.116},{"date":"2002-08","series":"real shock (Kilian)","value":-0.123},{"date":"2002-11","series":"real shock (Kilian)","value":-0.116},{"date":"2003-02","series":"real shock (Kilian)","value":-0.105},{"date":"2003-06","series":"real shock (Kilian)","value":-0.085},{"date":"2003-09","series":"real shock (Kilian)","value":-0.065},{"date":"2004-01","series":"real shock (Kilian)","value":-0.046},{"date":"2004-03","series":"real shock (Kilian)","value":-0.04},{"date":"2004-06","series":"real shock (Kilian)","value":-0.053},{"date":"2004-09","series":"real shock (Kilian)","value":-0.042},{"date":"2004-11","series":"real shock (Kilian)","value":-0.031},{"date":"2005-04","series":"real shock (Kilian)","value":-0.023},{"date":"2005-07","series":"real shock (Kilian)","value":-0.027},{"date":"2005-11","series":"real shock (Kilian)","value":-0.01},{"date":"2006-03","series":"real shock (Kilian)","value":-0.008},{"date":"2006-06","series":"real shock (Kilian)","value":0.003},{"date":"2006-08","series":"real shock (Kilian)","value":0.024},{"date":"2006-12","series":"real shock (Kilian)","value":0.044},{"date":"2007-04","series":"real shock (Kilian)","value":0.064},{"date":"2007-07","series":"real shock (Kilian)","value":0.089},{"date":"2007-10","series":"real shock (Kilian)","value":0.104},{"date":"2007-12","series":"real shock (Kilian)","value":0.109},{"date":"2008-01","series":"real shock (Kilian)","value":0.11},{"date":"2008-04","series":"real shock (Kilian)","value":0.124},{"date":"2008-06","series":"real shock (Kilian)","value":0.124},{"date":"2008-07","series":"real shock (Kilian)","value":0.109},{"date":"2008-09","series":"real shock (Kilian)","value":0.084},{"date":"2008-11","series":"real shock (Kilian)","value":0.064},{"date":"2009-01","series":"real shock (Kilian)","value":0.062},{"date":"2009-02","series":"real shock (Kilian)","value":0.094},{"date":"2009-03","series":"real shock (Kilian)","value":0.124},{"date":"2009-04","series":"real shock (Kilian)","value":0.131},{"date":"2009-06","series":"real shock (Kilian)","value":0.113},{"date":"2009-08","series":"real shock (Kilian)","value":0.124},{"date":"2009-10","series":"real shock (Kilian)","value":0.139},{"date":"2010-01","series":"real shock (Kilian)","value":0.154},{"date":"2010-04","series":"real shock (Kilian)","value":0.144},{"date":"2010-06","series":"real shock (Kilian)","value":0.139},{"date":"2010-09","series":"real shock (Kilian)","value":0.129},{"date":"2010-12","series":"real shock (Kilian)","value":0.124},{"date":"2011-01","series":"real shock (Kilian)","value":0.104},{"date":"2011-03","series":"real shock (Kilian)","value":0.089},{"date":"2011-06","series":"real shock (Kilian)","value":0.094},{"date":"2011-09","series":"real shock (Kilian)","value":0.101},{"date":"2011-10","series":"real shock (Kilian)","value":0.098},{"date":"2011-12","series":"real shock (Kilian)","value":0.074},{"date":"2012-02","series":"real shock (Kilian)","value":0.059},{"date":"2012-04","series":"real shock (Kilian)","value":0.06},{"date":"2012-06","series":"real shock (Kilian)","value":0.071},{"date":"2012-08","series":"real shock (Kilian)","value":0.049},{"date":"2012-11","series":"real shock (Kilian)","value":0.034},{"date":"2013-01","series":"real shock (Kilian)","value":0.03},{"date":"2013-03","series":"real shock (Kilian)","value":0.019},{"date":"2013-06","series":"real shock (Kilian)","value":0.034},{"date":"2013-08","series":"real shock (Kilian)","value":0.052},{"date":"2013-11","series":"real shock (Kilian)","value":0.062},{"date":"2014-01","series":"real shock (Kilian)","value":0.049},{"date":"2014-03","series":"real shock (Kilian)","value":0.034},{"date":"2014-06","series":"real shock (Kilian)","value":0.019},{"date":"2014-09","series":"real shock (Kilian)","value":0.012},{"date":"2014-11","series":"real shock (Kilian)","value":0.007},{"date":"2014-12","series":"real shock (Kilian)","value":-0.001},{"date":"2015-01","series":"real shock (Kilian)","value":-0.002}
],
"fx": [
{"date":"1981-01","series":"FX shock","value":-0.003},{"date":"1981-03","series":"FX shock","value":-0.002},{"date":"1981-06","series":"FX shock","value":0.024},{"date":"1981-09","series":"FX shock","value":0.044},{"date":"1981-11","series":"FX shock","value":0.054},{"date":"1982-02","series":"FX shock","value":0.047},{"date":"1982-05","series":"FX shock","value":0.014},{"date":"1982-06","series":"FX shock","value":0.024},{"date":"1982-08","series":"FX shock","value":0.018},{"date":"1982-10","series":"FX shock","value":0.032},{"date":"1982-11","series":"FX shock","value":0.045},{"date":"1983-01","series":"FX shock","value":0.024},{"date":"1983-02","series":"FX shock","value":0.0},{"date":"1983-03","series":"FX shock","value":-0.03},{"date":"1983-05","series":"FX shock","value":-0.05},{"date":"1983-06","series":"FX shock","value":-0.02},{"date":"1983-08","series":"FX shock","value":0.0},{"date":"1983-09","series":"FX shock","value":0.044},{"date":"1983-11","series":"FX shock","value":0.074},{"date":"1984-01","series":"FX shock","value":0.084},{"date":"1984-03","series":"FX shock","value":0.109},{"date":"1984-05","series":"FX shock","value":0.099},{"date":"1984-06","series":"FX shock","value":0.079},{"date":"1984-08","series":"FX shock","value":0.094},{"date":"1984-09","series":"FX shock","value":0.109},{"date":"1984-10","series":"FX shock","value":0.139},{"date":"1984-12","series":"FX shock","value":0.131},{"date":"1985-01","series":"FX shock","value":0.094},{"date":"1985-02","series":"FX shock","value":-0.02},{"date":"1985-03","series":"FX shock","value":-0.12},{"date":"1985-06","series":"FX shock","value":-0.076},{"date":"1985-07","series":"FX shock","value":-0.056},{"date":"1985-09","series":"FX shock","value":-0.051},{"date":"1985-11","series":"FX shock","value":-0.096},{"date":"1985-12","series":"FX shock","value":-0.121},{"date":"1986-02","series":"FX shock","value":-0.08},{"date":"1986-03","series":"FX shock","value":-0.041},{"date":"1986-04","series":"FX shock","value":-0.036},{"date":"1986-06","series":"FX shock","value":-0.05},{"date":"1986-07","series":"FX shock","value":-0.111},{"date":"1986-08","series":"FX shock","value":-0.176},{"date":"1986-10","series":"FX shock","value":-0.136},{"date":"1986-11","series":"FX shock","value":-0.076},{"date":"1986-12","series":"FX shock","value":-0.056},{"date":"1987-02","series":"FX shock","value":-0.046},{"date":"1987-03","series":"FX shock","value":-0.066},{"date":"1987-05","series":"FX shock","value":-0.086},{"date":"1987-06","series":"FX shock","value":-0.051},{"date":"1987-08","series":"FX shock","value":-0.041},{"date":"1987-09","series":"FX shock","value":-0.056},{"date":"1987-11","series":"FX shock","value":-0.111},{"date":"1988-01","series":"FX shock","value":-0.126},{"date":"1988-02","series":"FX shock","value":-0.121},{"date":"1988-04","series":"FX shock","value":-0.061},{"date":"1988-06","series":"FX shock","value":-0.011},{"date":"1988-07","series":"FX shock","value":0.109},{"date":"1988-09","series":"FX shock","value":0.117},{"date":"1988-10","series":"FX shock","value":0.109},{"date":"1988-12","series":"FX shock","value":0.094},{"date":"1989-02","series":"FX shock","value":0.089},{"date":"1989-04","series":"FX shock","value":0.074},{"date":"1989-05","series":"FX shock","value":0.079},{"date":"1989-07","series":"FX shock","value":0.099},{"date":"1989-08","series":"FX shock","value":0.104},{"date":"1989-10","series":"FX shock","value":0.114},{"date":"1989-11","series":"FX shock","value":0.094},{"date":"1989-12","series":"FX shock","value":0.109},{"date":"1990-02","series":"FX shock","value":0.1},{"date":"1990-03","series":"FX shock","value":0.124},{"date":"1990-05","series":"FX shock","value":0.124},{"date":"1990-06","series":"FX shock","value":0.144},{"date":"1990-07","series":"FX shock","value":0.124},{"date":"1990-09","series":"FX shock","value":0.114},{"date":"1990-10","series":"FX shock","value":0.084},{"date":"1990-12","series":"FX shock","value":0.099},{"date":"1991-03","series":"FX shock","value":0.074},{"date":"1991-05","series":"FX shock","value":0.104},{"date":"1991-07","series":"FX shock","value":0.119},{"date":"1991-09","series":"FX shock","value":0.109},{"date":"1991-10","series":"FX shock","value":0.054},{"date":"1991-11","series":"FX shock","value":-0.01},{"date":"1992-01","series":"FX shock","value":-0.036},{"date":"1992-03","series":"FX shock","value":-0.016},{"date":"1992-05","series":"FX shock","value":-0.046},{"date":"1992-06","series":"FX shock","value":-0.096},{"date":"1992-08","series":"FX shock","value":-0.116},{"date":"1992-11","series":"FX shock","value":-0.115},{"date":"1993-01","series":"FX shock","value":-0.111},{"date":"1993-04","series":"FX shock","value":-0.116},{"date":"1993-06","series":"FX shock","value":-0.141},{"date":"1993-08","series":"FX shock","value":-0.156},{"date":"1993-09","series":"FX shock","value":-0.131},{"date":"1993-11","series":"FX shock","value":-0.101},{"date":"1994-01","series":"FX shock","value":-0.051},{"date":"1994-03","series":"FX shock","value":-0.054},{"date":"1994-04","series":"FX shock","value":-0.056},{"date":"1994-06","series":"FX shock","value":-0.053},{"date":"1994-07","series":"FX shock","value":-0.066},{"date":"1994-09","series":"FX shock","value":-0.066},{"date":"1994-11","series":"FX shock","value":-0.091},{"date":"1994-12","series":"FX shock","value":-0.136},{"date":"1995-02","series":"FX shock","value":-0.156},{"date":"1995-04","series":"FX shock","value":-0.161},{"date":"1995-06","series":"FX shock","value":-0.13},{"date":"1995-07","series":"FX shock","value":-0.076},{"date":"1995-09","series":"FX shock","value":-0.066},{"date":"1995-11","series":"FX shock","value":-0.076},{"date":"1996-01","series":"FX shock","value":-0.031},{"date":"1996-02","series":"FX shock","value":0.014},{"date":"1996-03","series":"FX shock","value":0.029},{"date":"1996-05","series":"FX shock","value":0.054},{"date":"1996-07","series":"FX shock","value":0.064},{"date":"1996-09","series":"FX shock","value":0.089},{"date":"1996-10","series":"FX shock","value":0.094},{"date":"1996-12","series":"FX shock","value":0.104},{"date":"1997-02","series":"FX shock","value":0.107},{"date":"1997-03","series":"FX shock","value":0.084},{"date":"1997-05","series":"FX shock","value":0.074},{"date":"1997-06","series":"FX shock","value":0.059},{"date":"1997-07","series":"FX shock","value":0.054},{"date":"1997-09","series":"FX shock","value":0.034},{"date":"1997-10","series":"FX shock","value":0.044},{"date":"1997-11","series":"FX shock","value":0.019},{"date":"1998-01","series":"FX shock","value":0.039},{"date":"1998-02","series":"FX shock","value":0.059},{"date":"1998-03","series":"FX shock","value":0.024},{"date":"1998-04","series":"FX shock","value":0.039},{"date":"1998-06","series":"FX shock","value":0.009},{"date":"1998-07","series":"FX shock","value":-0.001},{"date":"1998-09","series":"FX shock","value":-0.02},{"date":"1998-11","series":"FX shock","value":0.014},{"date":"1998-12","series":"FX shock","value":0.034},{"date":"1999-02","series":"FX shock","value":0.059},{"date":"1999-04","series":"FX shock","value":0.079},{"date":"1999-05","series":"FX shock","value":0.087},{"date":"1999-07","series":"FX shock","value":0.079},{"date":"1999-09","series":"FX shock","value":0.069},{"date":"1999-11","series":"FX shock","value":0.064},{"date":"1999-12","series":"FX shock","value":0.054},{"date":"2000-01","series":"FX shock","value":0.034},{"date":"2000-02","series":"FX shock","value":0.009},{"date":"2000-03","series":"FX shock","value":0.019},{"date":"2000-05","series":"FX shock","value":0.01},{"date":"2000-06","series":"FX shock","value":0.029},{"date":"2000-07","series":"FX shock","value":0.004},{"date":"2000-09","series":"FX shock","value":-0.016},{"date":"2000-10","series":"FX shock","value":-0.036},{"date":"2000-12","series":"FX shock","value":0.004},{"date":"2001-02","series":"FX shock","value":-0.005},{"date":"2001-03","series":"FX shock","value":-0.016},{"date":"2001-05","series":"FX shock","value":-0.01},{"date":"2001-07","series":"FX shock","value":0.004},{"date":"2001-09","series":"FX shock","value":0.034},{"date":"2001-10","series":"FX shock","value":0.039},{"date":"2001-12","series":"FX shock","value":0.037},{"date":"2002-02","series":"FX shock","value":0.044},{"date":"2002-04","series":"FX shock","value":0.074},{"date":"2002-05","series":"FX shock","value":0.067},{"date":"2002-06","series":"FX shock","value":0.05},{"date":"2002-08","series":"FX shock","value":0.024},{"date":"2002-10","series":"FX shock","value":0.009},{"date":"2002-11","series":"FX shock","value":-0.001},{"date":"2003-02","series":"FX shock","value":0.079},{"date":"2003-04","series":"FX shock","value":0.109},{"date":"2003-06","series":"FX shock","value":0.104},{"date":"2003-07","series":"FX shock","value":0.086},{"date":"2003-08","series":"FX shock","value":0.104},{"date":"2003-09","series":"FX shock","value":0.119},{"date":"2003-11","series":"FX shock","value":0.114},{"date":"2003-12","series":"FX shock","value":0.104},{"date":"2004-02","series":"FX shock","value":0.079},{"date":"2004-03","series":"FX shock","value":0.054},{"date":"2004-04","series":"FX shock","value":0.029},{"date":"2004-05","series":"FX shock","value":0.014},{"date":"2004-06","series":"FX shock","value":0.019},{"date":"2004-08","series":"FX shock","value":0.044},{"date":"2004-09","series":"FX shock","value":0.054},{"date":"2004-11","series":"FX shock","value":0.059},{"date":"2005-02","series":"FX shock","value":0.064},{"date":"2005-04","series":"FX shock","value":0.062},{"date":"2005-06","series":"FX shock","value":0.069},{"date":"2005-07","series":"FX shock","value":0.062},{"date":"2005-09","series":"FX shock","value":0.044},{"date":"2005-11","series":"FX shock","value":0.044},{"date":"2006-01","series":"FX shock","value":0.034},{"date":"2006-02","series":"FX shock","value":0.014},{"date":"2006-04","series":"FX shock","value":0.004},{"date":"2006-06","series":"FX shock","value":-0.006},{"date":"2006-08","series":"FX shock","value":-0.01},{"date":"2006-11","series":"FX shock","value":-0.046},{"date":"2007-01","series":"FX shock","value":-0.06},{"date":"2007-04","series":"FX shock","value":-0.076},{"date":"2007-05","series":"FX shock","value":-0.101},{"date":"2007-06","series":"FX shock","value":-0.131},{"date":"2007-08","series":"FX shock","value":-0.136},{"date":"2007-09","series":"FX shock","value":-0.151},{"date":"2007-11","series":"FX shock","value":-0.191},{"date":"2007-12","series":"FX shock","value":-0.176},{"date":"2008-01","series":"FX shock","value":-0.166},{"date":"2008-03","series":"FX shock","value":-0.173},{"date":"2008-05","series":"FX shock","value":-0.17},{"date":"2008-06","series":"FX shock","value":-0.176},{"date":"2008-07","series":"FX shock","value":-0.221},{"date":"2008-08","series":"FX shock","value":-0.286},{"date":"2008-09","series":"FX shock","value":-0.346},{"date":"2008-10","series":"FX shock","value":-0.306},{"date":"2008-11","series":"FX shock","value":-0.266},{"date":"2008-12","series":"FX shock","value":-0.256},{"date":"2009-02","series":"FX shock","value":-0.271},{"date":"2009-04","series":"FX shock","value":-0.276},{"date":"2009-06","series":"FX shock","value":-0.231},{"date":"2009-07","series":"FX shock","value":-0.196},{"date":"2009-09","series":"FX shock","value":-0.191},{"date":"2009-10","series":"FX shock","value":-0.19},{"date":"2009-12","series":"FX shock","value":-0.196},{"date":"2010-01","series":"FX shock","value":-0.203},{"date":"2010-02","series":"FX shock","value":-0.166},{"date":"2010-03","series":"FX shock","value":-0.186},{"date":"2010-05","series":"FX shock","value":-0.176},{"date":"2010-06","series":"FX shock","value":-0.151},{"date":"2010-08","series":"FX shock","value":-0.086},{"date":"2010-09","series":"FX shock","value":-0.076},{"date":"2010-11","series":"FX shock","value":-0.056},{"date":"2010-12","series":"FX shock","value":-0.026},{"date":"2011-01","series":"FX shock","value":0.014},{"date":"2011-03","series":"FX shock","value":0.029},{"date":"2011-05","series":"FX shock","value":0.024},{"date":"2011-06","series":"FX shock","value":0.01},{"date":"2011-08","series":"FX shock","value":-0.006},{"date":"2011-09","series":"FX shock","value":-0.016},{"date":"2011-11","series":"FX shock","value":0.014},{"date":"2012-01","series":"FX shock","value":0.044},{"date":"2012-02","series":"FX shock","value":0.059},{"date":"2012-04","series":"FX shock","value":0.079},{"date":"2012-06","series":"FX shock","value":0.104},{"date":"2012-08","series":"FX shock","value":0.129},{"date":"2012-10","series":"FX shock","value":0.154},{"date":"2012-12","series":"FX shock","value":0.129},{"date":"2013-01","series":"FX shock","value":0.139},{"date":"2013-02","series":"FX shock","value":0.149},{"date":"2013-04","series":"FX shock","value":0.104},{"date":"2013-05","series":"FX shock","value":0.054},{"date":"2013-06","series":"FX shock","value":0.014},{"date":"2013-07","series":"FX shock","value":-0.016},{"date":"2013-08","series":"FX shock","value":-0.036},{"date":"2013-10","series":"FX shock","value":-0.081},{"date":"2013-12","series":"FX shock","value":-0.051},{"date":"2014-02","series":"FX shock","value":-0.016},{"date":"2014-03","series":"FX shock","value":0.024},{"date":"2014-04","series":"FX shock","value":0.049},{"date":"2014-06","series":"FX shock","value":0.044},{"date":"2014-08","series":"FX shock","value":0.034},{"date":"2014-10","series":"FX shock","value":0.014},{"date":"2014-11","series":"FX shock","value":0.034},{"date":"2015-01","series":"FX shock","value":0.034}
]
},
"vconcat": [
{
"width": 771, "height": 502,
"encoding": {
"x": {"field": "date", "type": "temporal", "scale": {"type": "utc", "domain": [{"year":1981,"month":1,"date":1,"utc":true},{"year":2015,"month":1,"date":1,"utc":true}]}, "axis": {"orient": "bottom", "offset": -251, "values": [{"year":1981,"month":1,"date":1,"utc":true},{"year":1983,"month":1,"date":1,"utc":true},{"year":1985,"month":1,"date":1,"utc":true},{"year":1987,"month":1,"date":1,"utc":true},{"year":1989,"month":1,"date":1,"utc":true},{"year":1991,"month":1,"date":1,"utc":true},{"year":1993,"month":1,"date":1,"utc":true},{"year":1995,"month":1,"date":1,"utc":true},{"year":1997,"month":1,"date":1,"utc":true},{"year":1999,"month":1,"date":1,"utc":true},{"year":2001,"month":1,"date":1,"utc":true},{"year":2003,"month":1,"date":1,"utc":true},{"year":2005,"month":1,"date":1,"utc":true},{"year":2007,"month":1,"date":1,"utc":true},{"year":2009,"month":1,"date":1,"utc":true},{"year":2011,"month":1,"date":1,"utc":true},{"year":2013,"month":1,"date":1,"utc":true},{"year":2015,"month":1,"date":1,"utc":true}], "format": "%Y:%m", "labelAngle": -90, "labelFontSize": 16, "labelColor": "#111", "labelPadding": 8, "labelFlush": false, "labelOverlap": false, "tickSize": 6, "tickColor": "#333", "domainColor": "#333", "domainWidth": 1.2, "grid": false, "title": null, "zindex": 1}},
"y": {"field": "value", "type": "quantitative", "scale": {"domain": [-0.4, 0.4], "nice": false, "zero": false}, "axis": {"values": [-0.4,-0.3,-0.2,-0.1,0,0.1,0.2,0.3,0.4], "labelExpr": "datum.value == 0 ? '0' : format(datum.value, '.1f')", "labelFontSize": 16, "labelColor": "#111", "labelPadding": 8, "ticks": false, "grid": true, "gridColor": "#555", "gridWidth": 1, "domainColor": "#333", "domainWidth": 1.2, "title": null}},
"color": {"field": "series", "type": "nominal", "scale": {"domain": ["AUS dollar", "oil supply", "oil price"], "range": ["#1a1a1a", "#1a1a1a", "#9b9b9b"]}, "legend": {"legendX": 38, "legendY": 38}},
"strokeDash": {"field": "series", "type": "nominal", "scale": {"domain": ["AUS dollar", "oil supply", "oil price"], "range": [[1,0],[5,3],[1,0]]}, "legend": {"legendX": 38, "legendY": 38}}
},
"layer": [
{"data": {"name": "price"}, "mark": {"type": "line", "strokeWidth": 2.2}},
{"data": {"name": "supply"}, "mark": {"type": "line", "strokeWidth": 2}},
{"data": {"name": "aus"}, "mark": {"type": "line", "strokeWidth": 2.2}}
]
},
{
"width": 771, "height": 532,
"encoding": {
"x": {"field": "date", "type": "temporal", "scale": {"type": "utc", "domain": [{"year":1981,"month":1,"date":1,"utc":true},{"year":2015,"month":1,"date":1,"utc":true}]}, "axis": {"orient": "bottom", "offset": -266, "values": [{"year":1981,"month":1,"date":1,"utc":true},{"year":1983,"month":1,"date":1,"utc":true},{"year":1985,"month":1,"date":1,"utc":true},{"year":1987,"month":1,"date":1,"utc":true},{"year":1989,"month":1,"date":1,"utc":true},{"year":1991,"month":1,"date":1,"utc":true},{"year":1993,"month":1,"date":1,"utc":true},{"year":1995,"month":1,"date":1,"utc":true},{"year":1997,"month":1,"date":1,"utc":true},{"year":1999,"month":1,"date":1,"utc":true},{"year":2001,"month":1,"date":1,"utc":true},{"year":2003,"month":1,"date":1,"utc":true},{"year":2005,"month":1,"date":1,"utc":true},{"year":2007,"month":1,"date":1,"utc":true},{"year":2009,"month":1,"date":1,"utc":true},{"year":2011,"month":1,"date":1,"utc":true},{"year":2013,"month":1,"date":1,"utc":true},{"year":2015,"month":1,"date":1,"utc":true}], "format": "%Y:%m", "labelAngle": -90, "labelFontSize": 16, "labelColor": "#111", "labelPadding": 8, "labelFlush": false, "labelOverlap": false, "tickSize": 6, "tickColor": "#333", "domainColor": "#333", "domainWidth": 1.2, "grid": false, "title": null, "zindex": 1}},
"y": {"field": "value", "type": "quantitative", "scale": {"domain": [-0.4, 0.4], "nice": false, "zero": false}, "axis": {"values": [-0.4,-0.3,-0.2,-0.1,0,0.1,0.2,0.3,0.4], "labelExpr": "datum.value == 0 ? '0' : format(datum.value, '.1f')", "labelFontSize": 16, "labelColor": "#111", "labelPadding": 8, "ticks": false, "grid": true, "gridColor": "#555", "gridWidth": 1, "domainColor": "#333", "domainWidth": 1.2, "title": null}},
"color": {"field": "series", "type": "nominal", "scale": {"domain": ["AUS dollar", "real shock (Kilian)", "FX shock"], "range": ["#1a1a1a", "#1a1a1a", "#9b9b9b"]}, "legend": {"legendX": 38, "legendY": 69}},
"strokeDash": {"field": "series", "type": "nominal", "scale": {"domain": ["AUS dollar", "real shock (Kilian)", "FX shock"], "range": [[1,0],[5,2.5,1.5,2.5],[5,3]]}, "legend": {"legendX": 38, "legendY": 69}}
},
"layer": [
{"data": {"name": "fx"}, "mark": {"type": "line", "strokeWidth": 2}},
{"data": {"name": "real"}, "mark": {"type": "line", "strokeWidth": 2}},
{"data": {"name": "aus"}, "mark": {"type": "line", "strokeWidth": 2.2}}
]
}
],
"resolve": {"scale": {"color": "independent", "strokeDash": "independent", "x": "shared"}, "legend": {"color": "independent", "strokeDash": "independent"}}
}
